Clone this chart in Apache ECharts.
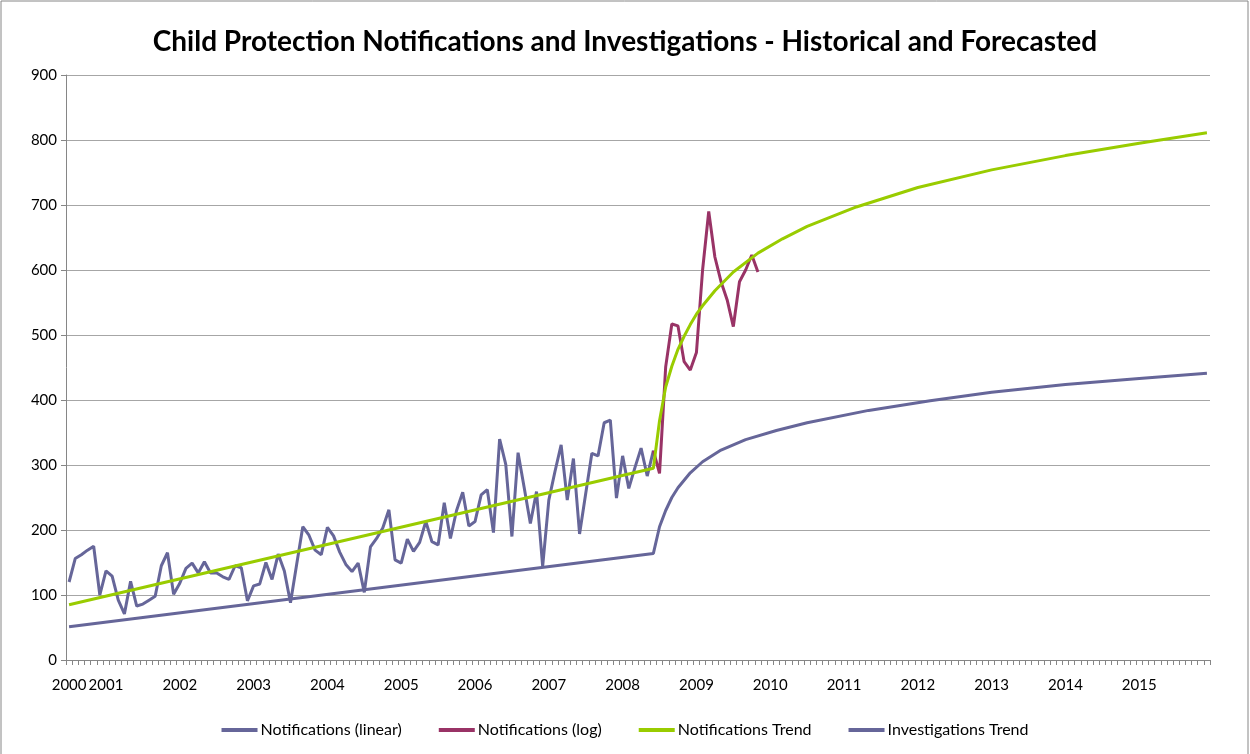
<!DOCTYPE html>
<html>
<head>
<meta charset="utf-8">
<script src="https://cdn.jsdelivr.net/npm/echarts@6/dist/echarts.min.js"></script>
<style>
  body { margin: 0; background: #fff; }
  #chart { width: 1250px; height: 754px; }
</style>
</head>
<body>
<div id="chart"></div>
<script>
// monthly categories, Jul 2000 .. Dec 2015, labelled only at year marks
const monthCount = 186
const yearLabels = ['2000', '2001', '2002', '2003', '2004', '2005', '2006', '2007',
  '2008', '2009', '2010', '2011', '2012', '2013', '2014', '2015']
const yearLabelIndex = [0, 6, 18, 30, 42, 54, 66, 78, 90, 102, 114, 126, 138, 150, 162, 174]

// historical notifications (one value per month from the first category)
const notificationsLinear = [
  120, 156, 162, 169, 175, 100, 137, 129, 92, 71, 121, 83, 86, 92, 98, 145, 165, 101,
  118, 141, 149, 134, 151, 134, 134, 128, 124, 145, 142, 91, 114, 117, 150, 124, 163, 137,
  88, 147, 205, 192, 169, 162, 204, 191, 166, 147, 136, 149, 104, 174, 187, 203, 231, 154,
  149, 186, 167, 181, 213, 182, 177, 242, 187, 230, 258, 206, 213, 254, 262, 196, 340, 301,
  190, 319, 265, 210, 259, 144, 246, 290, 331, 246, 310, 194, 256, 318, 314, 365, 369, 249,
  314, 264, 296, 326, 283, 322
]
// log-scaled notifications, starting at month index 95
const logStart = 95
const notificationsLog = [322, 287, 451, 517, 514, 459, 446, 473, 600, 690, 620, 582, 554, 513, 582, 600, 623, 597]

// trend lines read at [month index, value]
const notificationsTrend = [
  [0, 85], [95, 295], [96, 368], [97, 420], [98, 452], [99, 478], [100, 498], [101, 516],
  [102, 532], [103, 545], [105, 568], [108, 597], [112, 626], [116, 648], [120, 667],
  [128, 697], [138, 727], [150, 754], [162, 776], [174, 795], [185, 811]
]
const investigationsTrend = [
  [0, 51], [95, 164], [96, 205], [97, 230], [98, 250], [99, 265], [101, 288], [103, 305],
  [106, 323], [110, 339], [115, 353], [120, 365], [130, 384], [140, 399], [150, 412],
  [162, 424], [174, 433], [185, 441]
]

const categories = []
for (let i = 0; i < monthCount; i++) {
  const k = yearLabelIndex.indexOf(i)
  categories.push(k >= 0 ? yearLabels[k] : '')
}
const logData = categories.map((c, i) => {
  const j = i - logStart
  return j >= 0 && j < notificationsLog.length ? notificationsLog[j] : null
})

const font = 'Lato, "Liberation Sans", sans-serif'
const chart = echarts.init(document.getElementById('chart'))
chart.setOption({
  animation: false,
  color: ['#666699', '#993366', '#99cc00', '#666699'],
  textStyle: { fontFamily: font },
  title: {
    text: 'Child Protection Notifications and Investigations - Historical and Forecasted',
    left: 'center',
    top: 23,
    textStyle: { fontFamily: font, fontWeight: 'bold', fontSize: 28, color: '#000' }
  },
  graphic: [{
    type: 'rect',
    shape: { x: 1, y: 1, width: 1247, height: 770 },
    style: { fill: 'none', stroke: '#868686', lineWidth: 1 },
    silent: true
  }],
  legend: {
    bottom: 11,
    left: 'center',
    icon: 'rect',
    itemWidth: 36,
    itemHeight: 4,
    itemGap: 37,
    textStyle: { fontFamily: font, fontSize: 16, color: '#000', padding: [0, 0, 0, -2] },
    data: ['Notifications (linear)', 'Notifications (log)', 'Notifications Trend', 'Investigations Trend']
  },
  grid: { left: 66, right: 40, top: 75, bottom: 94 },
  xAxis: {
    type: 'category',
    data: categories,
    boundaryGap: true,
    axisLine: { lineStyle: { color: '#868686' } },
    axisTick: { show: true, interval: 0, length: 5, lineStyle: { color: '#868686' } },
    axisLabel: { interval: 0, margin: 18, fontSize: 15, color: '#000', fontFamily: font, hideOverlap: false },
    splitLine: { show: false }
  },
  yAxis: {
    type: 'value',
    min: 0,
    max: 900,
    interval: 100,
    axisLine: { show: true, lineStyle: { color: '#868686' } },
    axisTick: { show: true, length: 5, lineStyle: { color: '#868686' } },
    axisLabel: { margin: 9, fontSize: 15, color: '#000', fontFamily: font },
    splitLine: { lineStyle: { color: '#a6a6a6', width: 1 } }
  },
  series: [{
    name: 'Notifications (linear)',
    type: 'line',
    data: notificationsLinear,
    showSymbol: false,
    lineStyle: { width: 3 }
  }, {
    name: 'Notifications (log)',
    type: 'line',
    data: logData,
    showSymbol: false,
    lineStyle: { width: 3 }
  }, {
    name: 'Notifications Trend',
    type: 'line',
    data: notificationsTrend,
    showSymbol: false,
    lineStyle: { width: 3 }
  }, {
    name: 'Investigations Trend',
    type: 'line',
    data: investigationsTrend,
    showSymbol: false,
    lineStyle: { width: 3 }
  }]
})
</script>
</body>
</html>
